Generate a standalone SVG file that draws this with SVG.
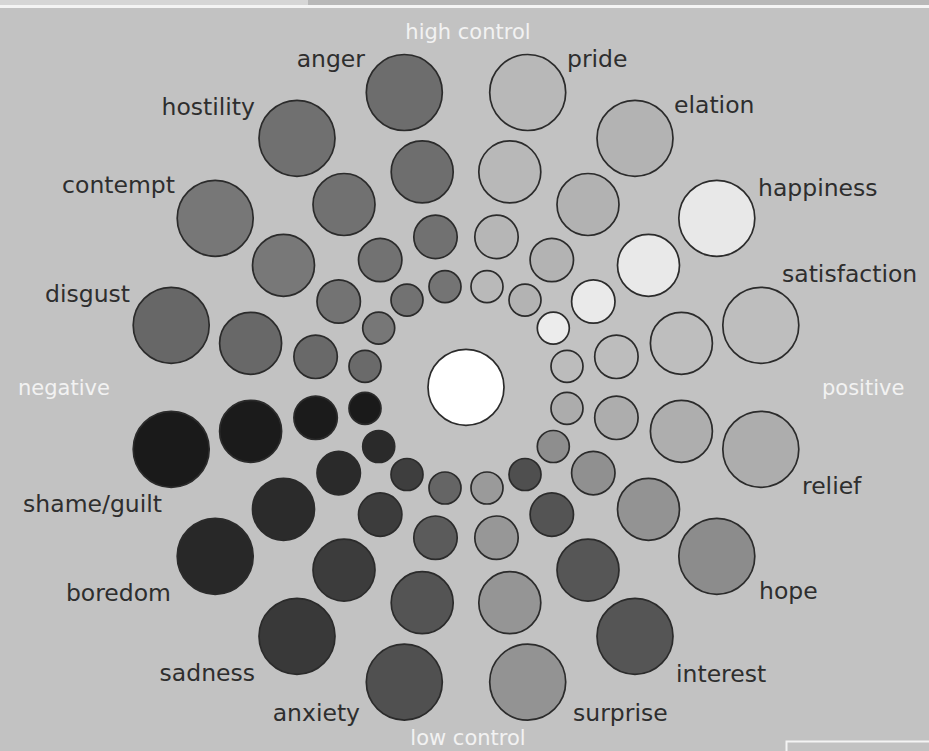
<svg xmlns="http://www.w3.org/2000/svg" width="929" height="751" viewBox="0 0 929 751">
<style>
.c{stroke:#2b2b2b;stroke-width:1.7}
.lbl{font-family:"DejaVu Sans","Liberation Sans",sans-serif;font-size:23.5px;fill:#2e2e2e}
.axis{font-family:"DejaVu Sans","Liberation Sans",sans-serif;font-size:21px;fill:#f2f2f2}
.e{text-anchor:end}
</style>
<rect x="0" y="0" width="929" height="751" fill="#c2c2c2"/>
<rect x="0" y="0" width="929" height="5" fill="#b8b8b8"/>
<rect x="0" y="0" width="308" height="5" fill="#d6d6d6"/>
<rect x="0" y="5" width="929" height="3" fill="#f4f4f4"/>
<path d="M786.5,751 V741.5 H929" fill="none" stroke="#f4f4f4" stroke-width="2"/>

<g id="axes">
<text class="axis" x="468" y="38.5" text-anchor="middle">high control</text>
<text class="axis" x="18" y="394.5">negative</text>
<text class="axis" x="822" y="394.5">positive</text>
<text class="axis" x="468" y="745" text-anchor="middle">low control</text>
</g>

<g id="center"><circle class="c" cx="466" cy="387.3" r="38" fill="#ffffff"/></g>

<g id="pride">
<circle class="c" cx="487" cy="286.6" r="16" fill="#b9b9b9"/>
<circle class="c" cx="496.5" cy="236.9" r="21.7" fill="#b6b6b6"/>
<circle class="c" cx="509.8" cy="171.9" r="31" fill="#b8b8b8"/>
<circle class="c" cx="527.7" cy="92.5" r="38" fill="#b8b8b8"/>
<text class="lbl" x="567" y="67">pride</text>
</g>
<g id="elation">
<circle class="c" cx="525" cy="300.1" r="16" fill="#b3b3b3"/>
<circle class="c" cx="551.8" cy="260" r="21.7" fill="#b3b3b3"/>
<circle class="c" cx="588" cy="204.5" r="31" fill="#b2b2b2"/>
<circle class="c" cx="635" cy="138.3" r="38" fill="#b3b3b3"/>
<text class="lbl" x="674" y="113">elation</text>
</g>
<g id="happiness">
<circle class="c" cx="553.3" cy="328.1" r="16" fill="#ececec"/>
<circle class="c" cx="593.3" cy="301.5" r="21.7" fill="#eaeaea"/>
<circle class="c" cx="648.5" cy="265.3" r="31" fill="#e9e9e9"/>
<circle class="c" cx="716.8" cy="218.3" r="38" fill="#e8e8e8"/>
<text class="lbl" x="758" y="196">happiness</text>
</g>
<g id="satisfaction">
<circle class="c" cx="567" cy="366.3" r="16" fill="#bcbcbc"/>
<circle class="c" cx="616.4" cy="356.8" r="21.7" fill="#bdbdbd"/>
<circle class="c" cx="681.4" cy="343.3" r="31" fill="#bebebe"/>
<circle class="c" cx="760.8" cy="325.3" r="38" fill="#bebebe"/>
<text class="lbl" x="782" y="282">satisfaction</text>
</g>
<g id="relief">
<circle class="c" cx="567" cy="408.3" r="16" fill="#acacac"/>
<circle class="c" cx="616.4" cy="417.8" r="21.7" fill="#adadad"/>
<circle class="c" cx="681.4" cy="431.3" r="31" fill="#aeaeae"/>
<circle class="c" cx="760.8" cy="449.3" r="38" fill="#adadad"/>
<text class="lbl" x="802" y="494">relief</text>
</g>
<g id="hope">
<circle class="c" cx="553.3" cy="446.5" r="16" fill="#8e8e8e"/>
<circle class="c" cx="593.3" cy="473.1" r="21.7" fill="#909090"/>
<circle class="c" cx="648.5" cy="509.3" r="31" fill="#939393"/>
<circle class="c" cx="716.8" cy="556.3" r="38" fill="#8c8c8c"/>
<text class="lbl" x="759" y="599">hope</text>
</g>
<g id="interest">
<circle class="c" cx="525" cy="474.5" r="16" fill="#4f4f4f"/>
<circle class="c" cx="551.8" cy="514.6" r="21.7" fill="#545454"/>
<circle class="c" cx="588" cy="570.1" r="31" fill="#565656"/>
<circle class="c" cx="635" cy="636.3" r="38" fill="#555555"/>
<text class="lbl" x="676" y="682">interest</text>
</g>
<g id="surprise">
<circle class="c" cx="487" cy="488" r="16" fill="#9a9a9a"/>
<circle class="c" cx="496.5" cy="537.7" r="21.7" fill="#979797"/>
<circle class="c" cx="509.8" cy="602.7" r="31" fill="#959595"/>
<circle class="c" cx="527.7" cy="682.1" r="38" fill="#939393"/>
<text class="lbl" x="573" y="721">surprise</text>
</g>
<g id="anxiety">
<circle class="c" cx="445" cy="488" r="16" fill="#656565"/>
<circle class="c" cx="435.5" cy="537.7" r="21.7" fill="#5b5b5b"/>
<circle class="c" cx="422.2" cy="602.7" r="31" fill="#545454"/>
<circle class="c" cx="404.3" cy="682.1" r="38" fill="#505050"/>
<text class="lbl e" x="360" y="721">anxiety</text>
</g>
<g id="sadness">
<circle class="c" cx="407" cy="474.5" r="16" fill="#3e3e3e"/>
<circle class="c" cx="380.2" cy="514.6" r="21.7" fill="#3c3c3c"/>
<circle class="c" cx="344" cy="570.1" r="31" fill="#3c3c3c"/>
<circle class="c" cx="297" cy="636.3" r="38" fill="#393939"/>
<text class="lbl e" x="255" y="681">sadness</text>
</g>
<g id="boredom">
<circle class="c" cx="378.7" cy="446.5" r="16" fill="#2a2a2a"/>
<circle class="c" cx="338.7" cy="473.1" r="21.7" fill="#2a2a2a"/>
<circle class="c" cx="283.5" cy="509.3" r="31" fill="#2b2b2b"/>
<circle class="c" cx="215.2" cy="556.3" r="38" fill="#282828"/>
<text class="lbl e" x="171" y="601">boredom</text>
</g>
<g id="shame-guilt">
<circle class="c" cx="365" cy="408.3" r="16" fill="#1a1a1a"/>
<circle class="c" cx="315.6" cy="417.8" r="21.7" fill="#1b1b1b"/>
<circle class="c" cx="250.6" cy="431.3" r="31" fill="#1b1b1b"/>
<circle class="c" cx="171.2" cy="449.3" r="38" fill="#1a1a1a"/>
<text class="lbl e" x="162" y="512">shame/guilt</text>
</g>
<g id="disgust">
<circle class="c" cx="365" cy="366.3" r="16" fill="#6a6a6a"/>
<circle class="c" cx="315.6" cy="356.8" r="21.7" fill="#696969"/>
<circle class="c" cx="250.6" cy="343.3" r="31" fill="#686868"/>
<circle class="c" cx="171.2" cy="325.3" r="38" fill="#676767"/>
<text class="lbl e" x="130" y="302">disgust</text>
</g>
<g id="contempt">
<circle class="c" cx="378.7" cy="328.1" r="16" fill="#777777"/>
<circle class="c" cx="338.7" cy="301.5" r="21.7" fill="#737373"/>
<circle class="c" cx="283.5" cy="265.3" r="31" fill="#787878"/>
<circle class="c" cx="215.2" cy="218.3" r="38" fill="#777777"/>
<text class="lbl e" x="175" y="193">contempt</text>
</g>
<g id="hostility">
<circle class="c" cx="407" cy="300.1" r="16" fill="#727272"/>
<circle class="c" cx="380.2" cy="260" r="21.7" fill="#727272"/>
<circle class="c" cx="344" cy="204.5" r="31" fill="#717171"/>
<circle class="c" cx="297" cy="138.3" r="38" fill="#707070"/>
<text class="lbl e" x="255" y="115">hostility</text>
</g>
<g id="anger">
<circle class="c" cx="445" cy="286.6" r="16" fill="#747474"/>
<circle class="c" cx="435.5" cy="236.9" r="21.7" fill="#717171"/>
<circle class="c" cx="422.2" cy="171.9" r="31" fill="#6e6e6e"/>
<circle class="c" cx="404.3" cy="92.5" r="38" fill="#6d6d6d"/>
<text class="lbl e" x="365" y="67">anger</text>
</g>
</svg>
